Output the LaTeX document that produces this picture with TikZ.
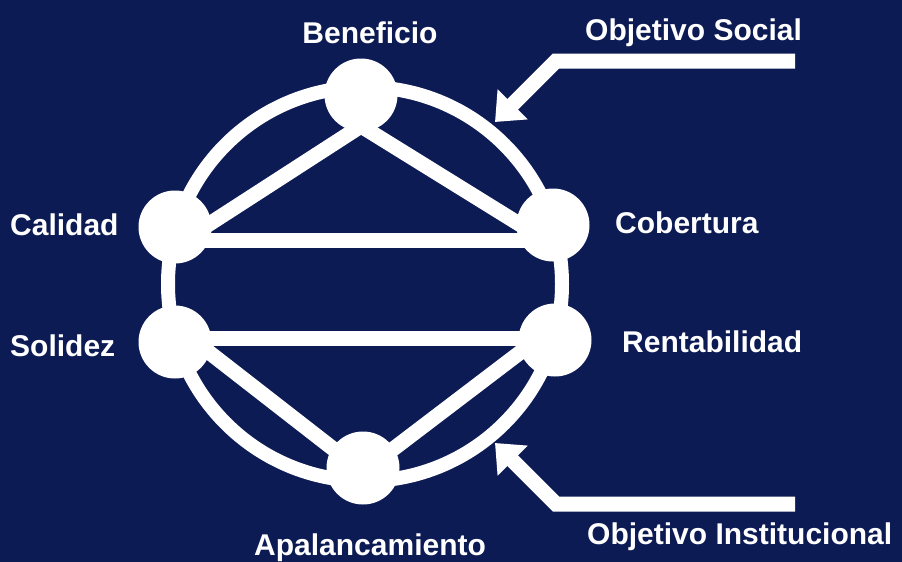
\documentclass[tikz,border=0pt]{standalone}
\usepackage{fontspec}
\setmainfont{Liberation Sans}
\usetikzlibrary{arrows.meta}
\definecolor{navy}{HTML}{0D1B54}
\pgfdeclarelayer{bg}
\pgfdeclarelayer{back}
\pgfsetlayers{bg,back,main}
\begin{document}
\begin{tikzpicture}[x=1pt,y=-1pt,
  lbl/.style={text=white,font=\fontsize{30}{30}\selectfont\bfseries,inner sep=0pt},
  dot/.style={circle,fill=white,minimum size=73pt,inner sep=0pt},
  ringstyle/.style={draw=white,line width=14pt,circle,minimum size=394pt,inner sep=0pt},
  bar/.style={draw=white,line width=15pt,line join=miter},
  bigarrow/.style={draw=white,line width=15pt,line join=miter,-{Triangle[length=25pt,width=41pt]}}]
\begin{pgfonlayer}{bg}
\fill[navy] (0,0) rectangle (902,562);
\end{pgfonlayer}
\useasboundingbox (0,0) rectangle (902,562);
% nodes
\node[dot] (ben) at (361,95) {};
\node[dot] (cal) at (175,227) {};
\node[dot] (cob) at (553,225) {};
\node[dot] (sol) at (175,342) {};
\node[dot] (ren) at (555,340) {};
\node[dot] (apa) at (363,468) {};
% ring and connectors behind the nodes
\begin{pgfonlayer}{back}
\node[ringstyle] (ring) at (365,284) {};
\draw[bar] ([xshift=8pt,yshift=-14pt]cal.center) -- ([yshift=-31pt]ben.center) -- ([xshift=-8pt,yshift=-15pt]cob.center);
\draw[bar] ([yshift=-13pt]cal.center) -- ([yshift=-15pt]cob.center);
\draw[bar] ([yshift=4pt]sol.center) -- ([yshift=2pt]ren.center);
\draw[bar] ([xshift=8pt,yshift=10pt]sol.center) -- ([yshift=-4pt]apa.center) -- ([xshift=-8pt,yshift=8pt]ren.center);
\end{pgfonlayer}
% labels
\node[lbl,anchor=base] (tben) at (370,43) {Beneficio};
\node[lbl,anchor=base west] (tcal) at (10,235) {Calidad};
\node[lbl,anchor=base west] (tsol) at (10,356) {Solidez};
\node[lbl,anchor=base west] (tcob) at (615,233) {Cobertura};
\node[lbl,anchor=base west] (tren) at (622,352) {Rentabilidad};
\node[lbl,anchor=base west] (tapa) at (254,555) {Apalancamiento};
\node[lbl,anchor=base west] (tsoc) at (585,40) {Objetivo Social};
\node[lbl,anchor=base west] (tins) at (587,544) {Objetivo Institucional};
% arrows
\coordinate (s1) at (795,61);
\coordinate (s2) at (556,61);
\coordinate (s3) at (495,122);
\coordinate (i1) at (795,504);
\coordinate (i2) at (556,504);
\coordinate (i3) at (495,443);
\draw[bigarrow] (s1) -- (s2) -- (s3);
\draw[bigarrow] (i1) -- (i2) -- (i3);
\end{tikzpicture}
\end{document}
